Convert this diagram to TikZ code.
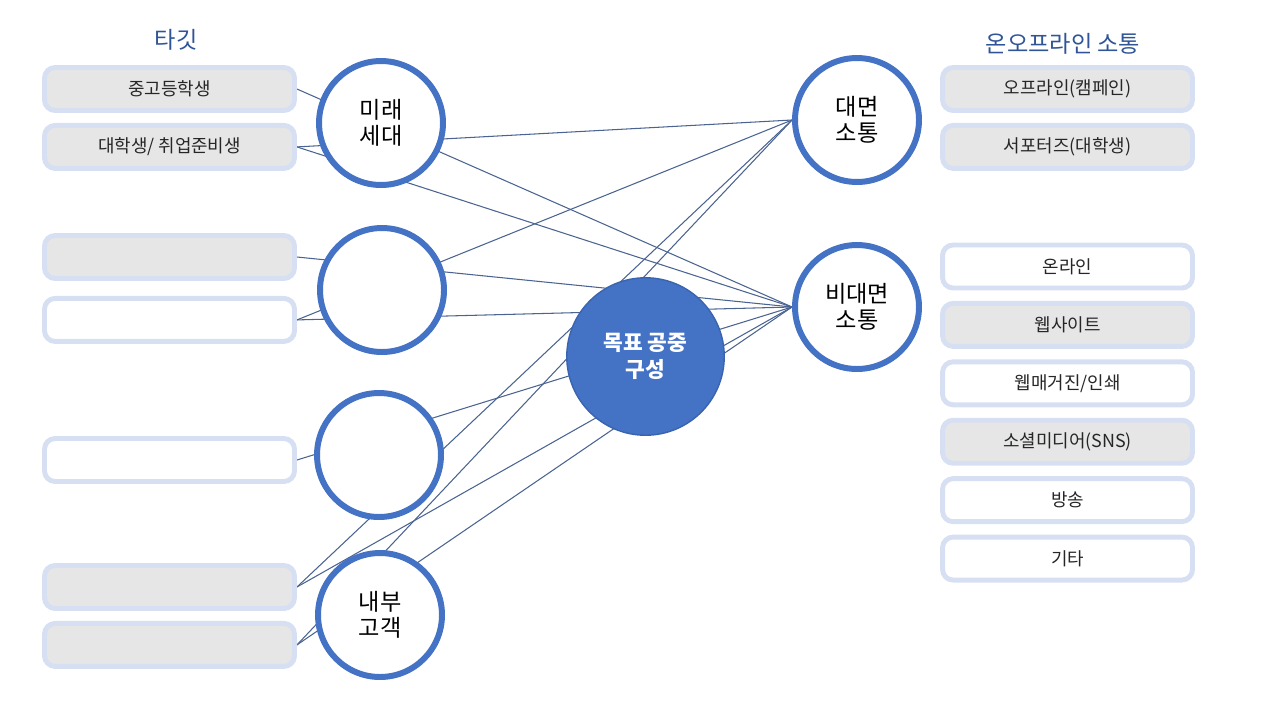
\documentclass[tikz,border=0pt]{standalone}
\usepackage{fontspec}
\setmainfont{Noto Sans CJK KR}
\usepackage{xcolor}
\usepackage{tikz}
\usetikzlibrary{positioning,backgrounds}
\definecolor{ringblue}{HTML}{4472C4}
\definecolor{goalrim}{HTML}{3A64B0}
\definecolor{edgeblue}{HTML}{D6E0F2}
\definecolor{boxgray}{HTML}{E7E6E6}
\definecolor{titleblue}{HTML}{2F5597}
\definecolor{linkblue}{HTML}{4B6390}
\tikzset{
  tbox/.style={rectangle, rounded corners=6pt, draw=edgeblue, line width=2.8pt,
               minimum width=5.0cm, minimum height=0.86cm, inner sep=0pt,
               align=center, text=black!85, font=\fontsize{10.2}{12}\selectfont},
  gbox/.style={tbox, fill=boxgray},
  wbox/.style={tbox, fill=white},
  ring/.style={circle, draw=ringblue, line width=3.4pt, fill=white, inner sep=0pt,
               minimum size=2.48cm, align=center, font=\fontsize{13.2}{15}\selectfont},
  link/.style={draw=linkblue, line width=0.6pt}
}

\begin{document}
\begin{tikzpicture}[
  x=0.02cm, y=-0.02cm,
  goal/.style={circle, fill=ringblue, draw=goalrim, line width=0.8pt, inner sep=0pt,
               minimum size=3.15cm, align=center, text=white,
               font=\bfseries\fontsize{12.2}{15.5}\selectfont},
  ttl/.style={text=titleblue, font=\fontsize{13.2}{15}\selectfont}
]
\useasboundingbox (0,0) rectangle (1280,717);
% ---- titles ----
\node[ttl] (ttarget) at (176,40) {타깃};
\node[ttl] (tchannel) at (1063,44) {온오프라인 소통};
% ---- target boxes ----
\node[gbox] (tg1) at (169.5,89) {중고등학생};
\node[gbox, below=2mm of tg1] (tg2) {대학생/ 취업준비생};
\node[gbox] (tg3) at (169.5,257) {};
\node[wbox, below=3mm of tg3] (tg4) {};
\node[wbox] (tg5) at (169.5,460) {};
\node[gbox] (tg6) at (169.5,587) {};
\node[gbox, below=2mm of tg6] (tg7) {};
% ---- target circles ----
\node[ring] (mirae) at (381,123) {미래\\세대};
\node[ring] (cheong) at (382,290) {};
\node[ring] (giup) at (379,455) {};
\node[ring] (naebu) at (380,615) {내부\\고객};
% ---- goal ----
\node[goal] (goal) at (645.5,356.5) {목표 공중\\구성};
% ---- channel circles ----
\node[ring] (daemyeon) at (857,120) {대면\\소통};
\node[ring] (bidae) at (857,307) {비대면\\소통};
% ---- channel boxes ----
\node[gbox] (ch1) at (1067.5,89) {오프라인(캠페인)};
\node[gbox, below=2mm of ch1] (ch2) {서포터즈(대학생)};
\node[wbox] (ch3) at (1067.5,266.5) {온라인};
\node[gbox, below=2.1mm of ch3] (ch4) {웹사이트};
\node[wbox, below=2.1mm of ch4] (ch5) {웹매거진/인쇄};
\node[gbox, below=2.1mm of ch5] (ch6) {소셜미디어(SNS)};
\node[wbox, below=2.1mm of ch6] (ch7) {방송};
\node[wbox, below=2.1mm of ch7] (ch8) {기타};
% ---- links ----
\begin{scope}[on background layer]
\foreach \s in {tg1,tg2,tg3,tg4,tg5,tg6,tg7}
  \draw[link] (\s.east) -- (bidae.west);
\foreach \s in {tg2,tg4,tg6,tg7}
  \draw[link] (\s.east) -- (daemyeon.west);
\end{scope}
\end{tikzpicture}
\end{document}
